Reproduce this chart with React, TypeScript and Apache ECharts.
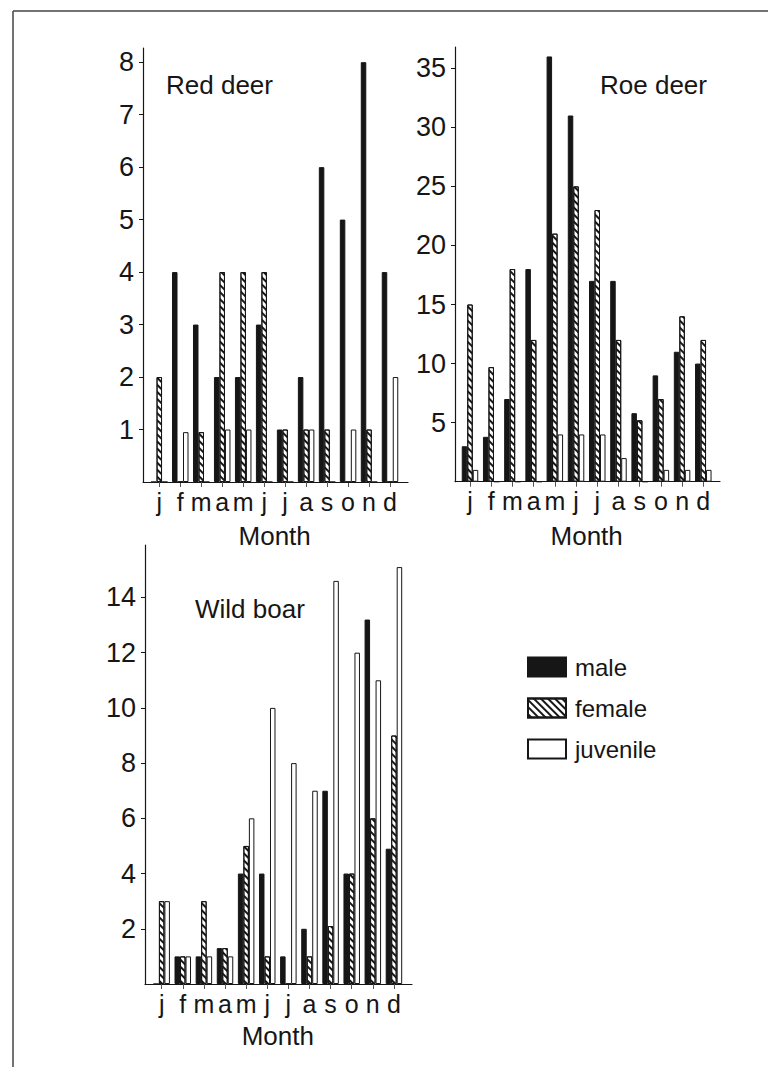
import React, { useEffect, useRef } from 'react';
import * as echarts from 'echarts';

const months = ['j', 'f', 'm', 'a', 'm', 'j', 'j', 'a', 's', 'o', 'n', 'd'];
const seriesNames = ['male', 'female', 'juvenile'];
const panelTitles = ['Red deer', 'Roe deer', 'Wild boar'];
const axisTitle = 'Month';

const redMale = [0, 4, 3, 2, 2, 3, 1, 2, 6, 5, 8, 4];
const redFemale = [2, 0, 0.95, 4, 4, 4, 1, 1, 1, 0, 1, 0];
const redJuvenile = [0, 0.95, 0, 1, 1, 0, 0, 1, 0, 1, 0, 2];

const roeMale = [3, 3.8, 7, 18, 36, 31, 17, 17, 5.8, 9, 11, 10];
const roeFemale = [15, 9.7, 18, 12, 21, 25, 23, 12, 5.2, 7, 14, 12];
const roeJuvenile = [1, 0, 0, 0, 4, 4, 4, 2, 0, 1, 1, 1];

const boarMale = [0, 1, 1, 1.3, 4, 4, 1, 2, 7, 4, 13.2, 4.9];
const boarFemale = [3, 1, 3, 1.3, 5, 1, 0, 1, 2.1, 4, 6, 9];
const boarJuvenile = [3, 1, 1, 1, 6, 10, 8, 7, 14.6, 12, 11, 15.1];

const redTicks = [1, 2, 3, 4, 5, 6, 7, 8];
const roeTicks = [5, 10, 15, 20, 25, 30, 35];
const boarTicks = [2, 4, 6, 8, 10, 12, 14];

const FONT = "'Liberation Sans', Arial, Helvetica, sans-serif";
const INK = '#161616';

const hatch = {
  symbol: 'rect',
  symbolSize: 1,
  dashArrayX: [1, 0],
  dashArrayY: [1.6, 2.2],
  rotation: Math.PI / 4,
  color: INK,
  backgroundColor: '#ffffff',
};

const panels = [
  {
    frame: { left: 143, top: 48, width: 265, height: 434 },
    plot: { left: 148.8, width: 251.7 },
    max: 8.27,
    ticks: redTicks,
    data: [redMale, redFemale, redJuvenile],
    title: { left: 166, top: 72 },
    nameGap: 41,
  },
  {
    frame: { left: 455, top: 47, width: 265, height: 434.7 },
    plot: { left: 459.4, width: 254.5 },
    max: 36.8,
    ticks: roeTicks,
    data: [roeMale, roeFemale, roeJuvenile],
    title: { left: 600, top: 72 },
    nameGap: 41,
  },
  {
    frame: { left: 145, top: 545, width: 267, height: 439 },
    plot: { left: 151.1, width: 253.4 },
    max: 15.9,
    ticks: boarTicks,
    data: [boarMale, boarFemale, boarJuvenile],
    title: { left: 195, top: 596 },
    nameGap: 39,
  },
];

const seriesStyles = [
  { color: INK, borderColor: INK, borderWidth: 1 },
  { color: '#ffffff', borderColor: INK, borderWidth: 1, decal: hatch },
  { color: '#ffffff', borderColor: INK, borderWidth: 1 },
];

function buildOption() {
  const grid: any[] = [];
  const xAxis: any[] = [];
  const yAxis: any[] = [];
  const series: any[] = [];
  const title: any[] = [];

  panels.forEach((p, i) => {
    const gA = 2 * i;
    const gB = 2 * i + 1;
    grid.push({ ...p.frame, containLabel: false, outerBoundsMode: 'none' });
    grid.push({
      left: p.plot.left,
      width: p.plot.width,
      top: p.frame.top,
      height: p.frame.height,
      containLabel: false,
      outerBoundsMode: 'none',
    });
    xAxis.push({
      type: 'category',
      gridIndex: gA,
      data: months,
      axisLine: { show: true, lineStyle: { color: INK, width: 1.2 } },
      axisTick: { show: false },
      axisLabel: { show: false },
      splitLine: { show: false },
    });
    yAxis.push({
      type: 'value',
      gridIndex: gA,
      min: 0,
      max: p.max,
      axisLine: { show: true, lineStyle: { color: INK, width: 1.2 } },
      axisTick: { show: true, customValues: p.ticks, length: 4, lineStyle: { color: INK } },
      axisLabel: {
        customValues: p.ticks,
        fontSize: 27,
        fontFamily: FONT,
        color: INK,
        margin: 9,
      },
      splitLine: { show: false },
    });
    xAxis.push({
      type: 'category',
      gridIndex: gB,
      data: months,
      name: axisTitle,
      nameLocation: 'middle',
      nameGap: p.nameGap,
      nameTextStyle: { fontSize: 26, fontFamily: FONT, color: INK },
      axisLine: { show: false },
      axisTick: { show: true, alignWithLabel: true, length: 5, lineStyle: { color: '#555' } },
      axisLabel: { fontSize: 25, fontFamily: FONT, color: INK, margin: 7, interval: 0 },
      splitLine: { show: false },
    });
    yAxis.push({
      type: 'value',
      gridIndex: gB,
      min: 0,
      max: p.max,
      show: false,
      splitLine: { show: false },
    });
    p.data.forEach((vals, k) => {
      series.push({
        type: 'bar',
        name: seriesNames[k],
        xAxisIndex: gB,
        yAxisIndex: gB,
        data: vals,
        barWidth: 5.5,
        barGap: '0%',
        itemStyle: seriesStyles[k],
      });
    });
    title.push({
      text: panelTitles[i],
      left: p.title.left,
      top: p.title.top,
      padding: 0,
      textStyle: { fontSize: 26, fontWeight: 'normal', fontFamily: FONT, color: INK },
    });
  });

  return {
    animation: false,
    backgroundColor: '#ffffff',
    title,
    grid,
    xAxis,
    yAxis,
    series,
    legend: {
      data: seriesNames,
      orient: 'vertical',
      left: 522,
      top: 650,
      itemWidth: 38,
      itemHeight: 19,
      itemGap: 17,
      icon: 'rect',
      selectedMode: false,
      textStyle: { fontSize: 24, fontFamily: FONT, color: INK, padding: [0, 0, 0, 4] },
    },
    graphic: [
      { type: 'line', shape: { x1: 13, y1: 11, x2: 13, y2: 1067 }, style: { stroke: '#444', lineWidth: 1.5 } },
      { type: 'line', shape: { x1: 13, y1: 11, x2: 768, y2: 11 }, style: { stroke: '#444', lineWidth: 1.5 } },
    ],
  };
}

export default function App() {
  const ref = useRef<HTMLDivElement>(null);
  useEffect(() => {
    if (!ref.current) return;
    const chart = echarts.init(ref.current, null, { renderer: 'svg' });
    chart.setOption(buildOption() as any);
    return () => chart.dispose();
  }, []);
  return (
    <div
      ref={ref}
      style={{ position: 'absolute', left: 0, top: 0, width: 768, height: 1067, background: '#fff' }}
    />
  );
}
